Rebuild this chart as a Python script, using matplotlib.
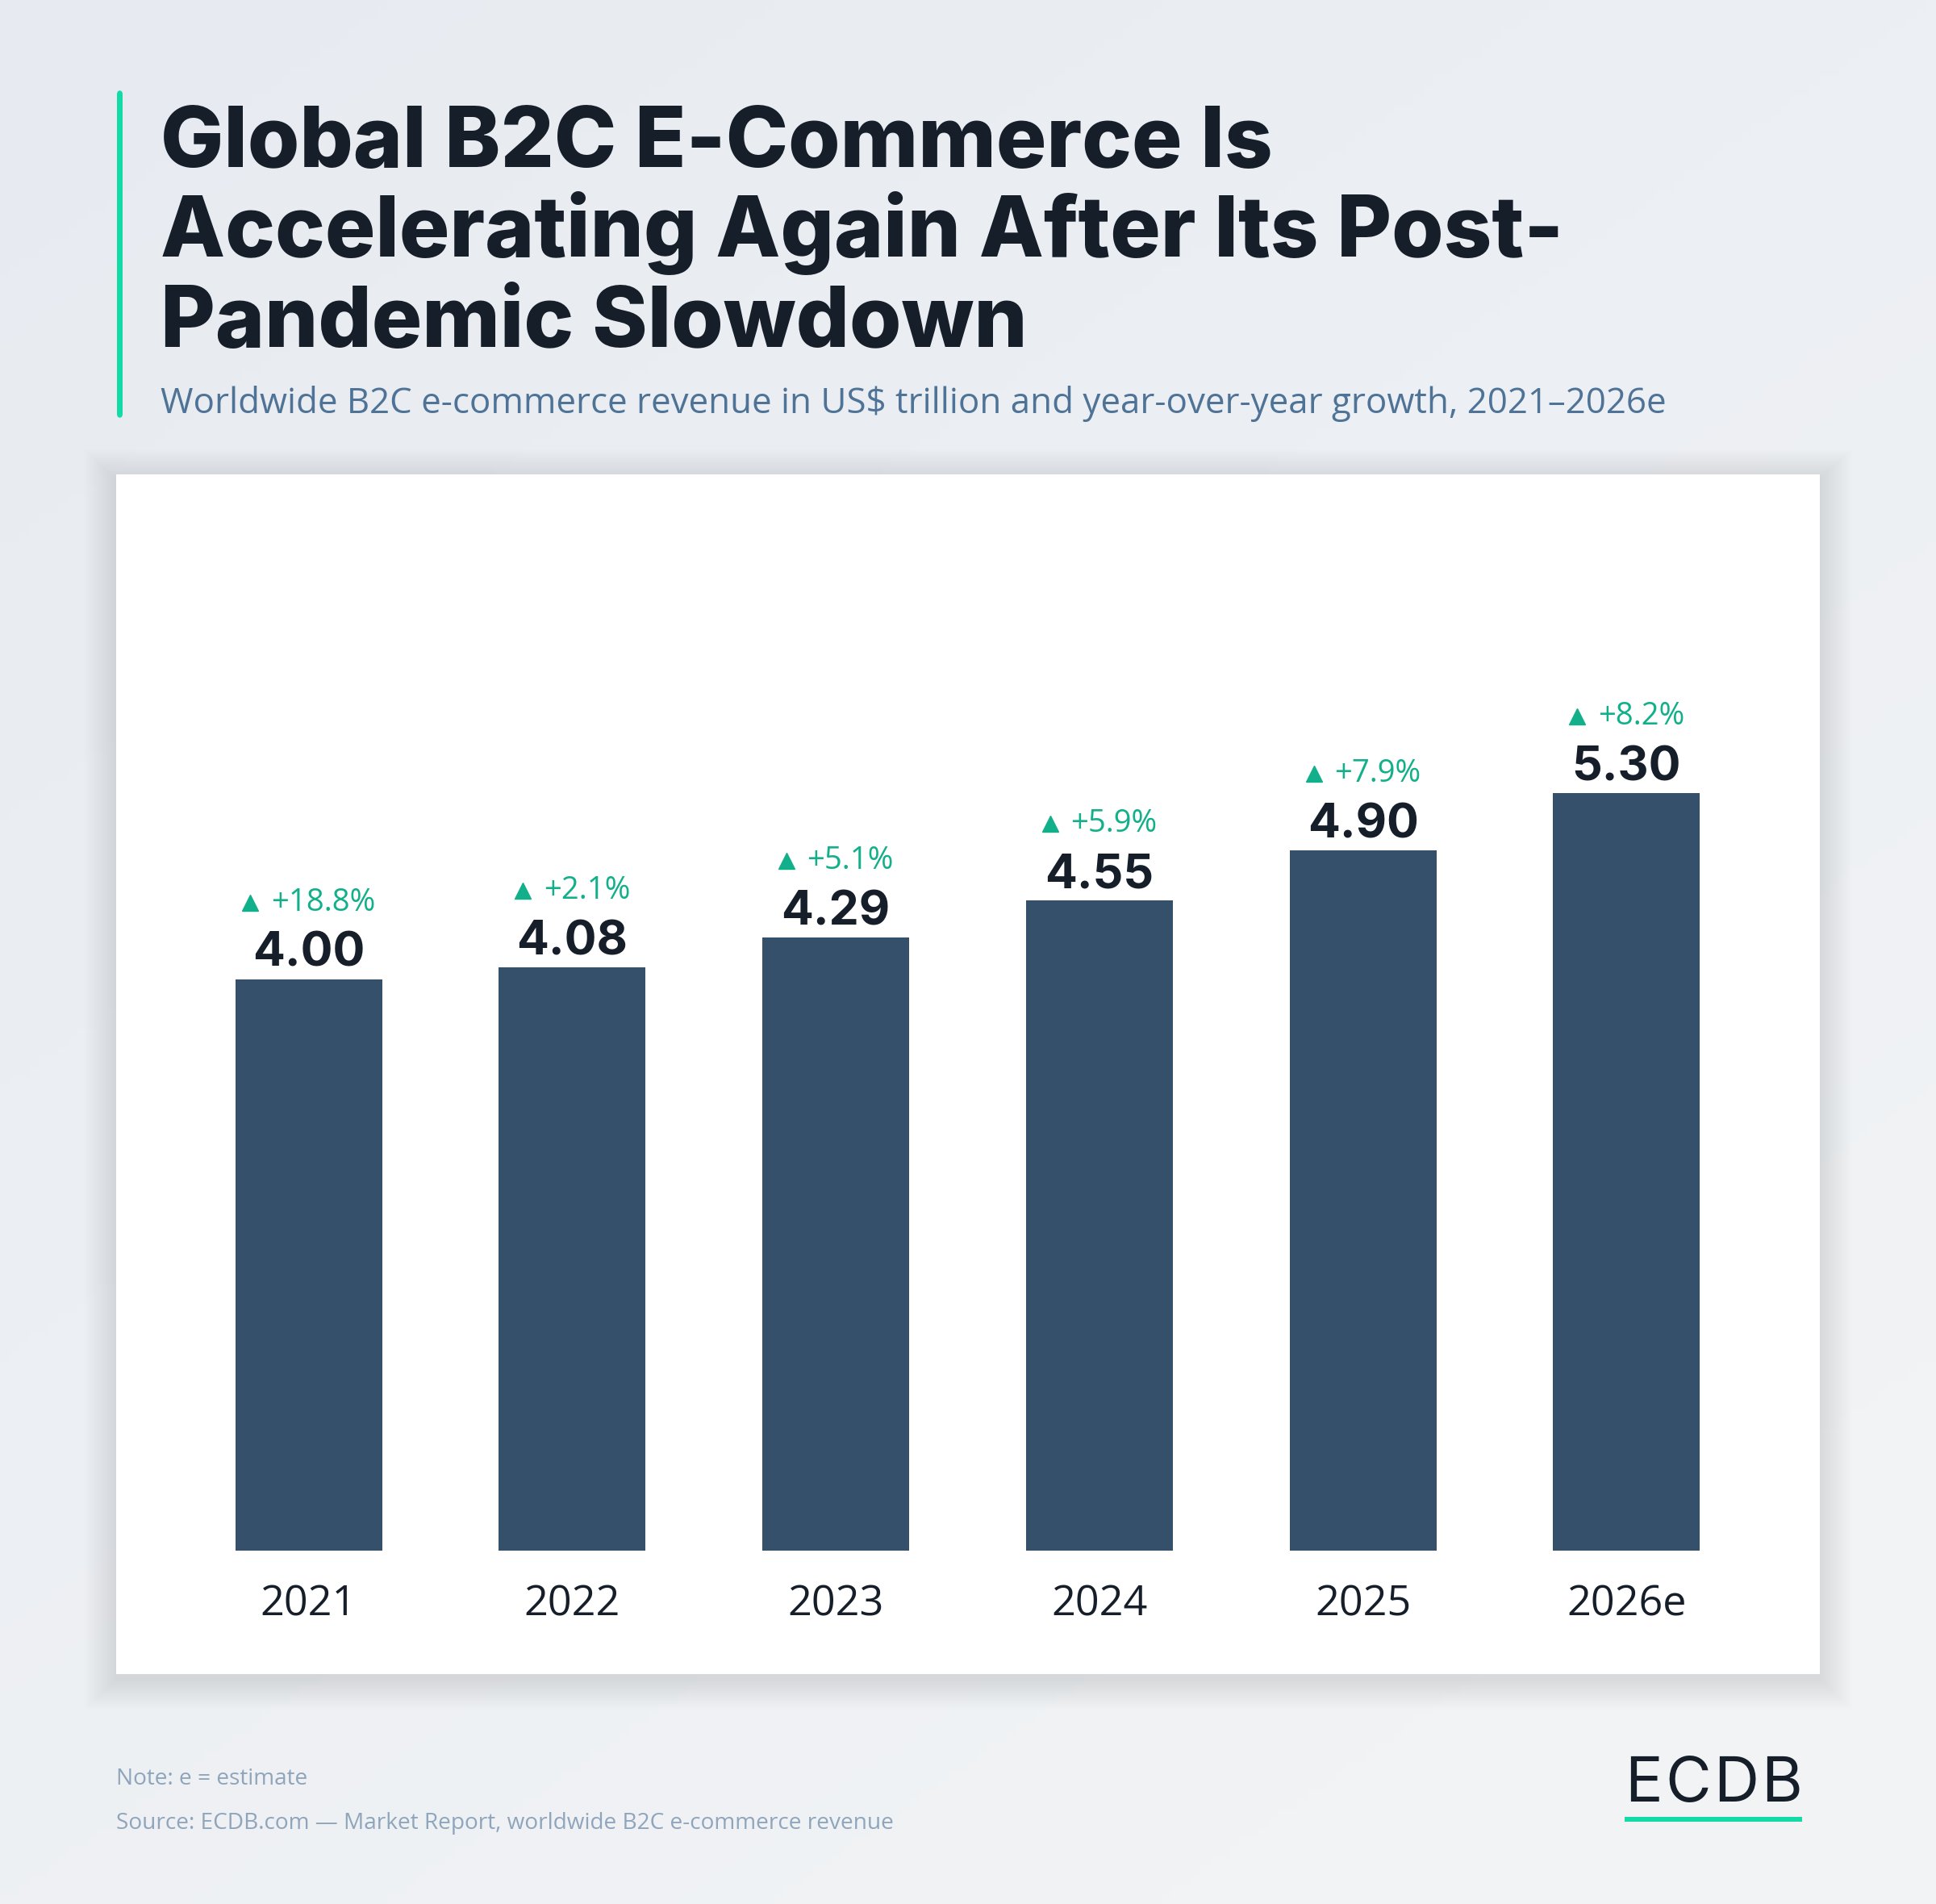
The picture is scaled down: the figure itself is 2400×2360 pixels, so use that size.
import numpy as np
import matplotlib
matplotlib.use("Agg")
import matplotlib.pyplot as plt
from matplotlib.patches import Rectangle, FancyBboxPatch
from matplotlib import transforms

years = ["2021", "2022", "2023", "2024", "2025", "2026e"]
revenue = [4.00, 4.08, 4.29, 4.55, 4.90, 5.30]
growth = [18.8, 2.1, 5.1, 5.9, 7.9, 8.2]

title_lines = ["Global B2C E-Commerce Is",
               "Accelerating Again After Its Post-",
               "Pandemic Slowdown"]
subtitle = "Worldwide B2C e-commerce revenue in US$ trillion and year-over-year growth, 2021\u20132026e"
note = "Note: e = estimate"
source = "Source: ECDB.com \u2014 Market Report, worldwide B2C e-commerce revenue"

W, H = 2400, 2360
BAR = "#34506a"
DARK = "#151e29"
GREEN = "#12b08a"
ACCENT = "#12dba8"


def fx(x):
    return x / W


def fy(y):
    return 1 - y / H


fig = plt.figure(figsize=(W / 100, H / 100), dpi=100)

# background gradient
bg = fig.add_axes([0, 0, 1, 1], zorder=-10)
gx, gy = np.meshgrid(np.linspace(0, 1, 200), np.linspace(0, 1, 200))
t = np.clip(0.5 * gx + 0.7 * gy, 0, 1)
c0 = np.array([0xe7, 0xeb, 0xf1]) / 255
c1 = np.array([0xf1, 0xf3, 0xf5]) / 255
img = c0[None, None, :] * (1 - t[..., None]) + c1[None, None, :] * t[..., None]
bg.imshow(img, aspect="auto", extent=[0, 1, 0, 1])
bg.axis("off")

# accent bar + title
fig.add_artist(FancyBboxPatch((fx(145), fy(518)), fx(7), 406 / H,
                              boxstyle="round,pad=0,rounding_size=0.002",
                              transform=fig.transFigure, color=ACCENT, lw=0))
for line, base in zip(title_lines, [207, 318, 430]):
    fig.text(fx(199), fy(base), line, fontsize=75, fontweight="heavy",
             family="Inter", color=DARK, va="baseline", ha="left")
fig.text(fx(199), fy(512), subtitle, fontsize=31.6, family="Open Sans",
         color="#4f7396", va="baseline", ha="left")

# card shadow
cx0, cy0, cx1, cy1 = 144, 588, 2256, 2075
for k in range(1, 26):
    fig.add_artist(Rectangle((fx(cx0 - k * 1.6), fy(cy1 + 6 + k * 1.5)),
                             (cx1 - cx0 + k * 3.2) / W, (cy1 - cy0 + k * 3.0) / H,
                             transform=fig.transFigure, color="#5a6b85",
                             alpha=0.004, lw=0, zorder=0))

ax = fig.add_axes([fx(cx0), fy(cy1), (cx1 - cx0) / W, (cy1 - cy0) / H], zorder=1)
ax.set_facecolor("white")
x = np.arange(len(years))
ax.bar(x, revenue, width=0.557, color=BAR)
ax.set_xlim(-0.730, 5.733)
ax.set_ylim(-0.861, 7.531)
for s in ax.spines.values():
    s.set_visible(False)
ax.set_xticks([])
ax.set_yticks([])

for i, (v, yr) in enumerate(zip(revenue, years)):
    ax.annotate(f"{v:.2f}", xy=(i, v), xytext=(0, 16), textcoords="offset pixels",
                ha="center", va="baseline", fontsize=42.5, fontweight="bold",
                family="Inter", color=DARK)
    ax.annotate(yr, xy=(i, 0), xytext=(0, -80), textcoords="offset pixels",
                ha="center", va="baseline", fontsize=37.5, family="Open Sans",
                fontweight="medium", color=DARK)

fig.canvas.draw()
r = fig.canvas.get_renderer()
tri_w, gap = 21, 15
for i, (v, g) in enumerate(zip(revenue, growth)):
    tx = ax.annotate(f"+{g:.1f}%", xy=(i, v), xytext=(0, 85), textcoords="offset pixels",
                     ha="left", va="baseline", fontsize=27.5, family="Open Sans",
                     fontweight="medium", color=GREEN)
    w = tx.get_window_extent(r).width
    total = tri_w + gap + w
    tx.xyann = (-total / 2 + tri_w + gap, 85)
    tr = transforms.offset_copy(ax.transData, fig=fig, x=-total / 2 + tri_w / 2,
                                y=95, units="dots")
    ax.plot([i], [v], marker="^", ms=14.5, color=GREEN, transform=tr, clip_on=False)

# footer
fig.text(fx(144), fy(2212), note, fontsize=20.2, family="Open Sans",
         color="#8fa5bc", va="baseline")
fig.text(fx(144), fy(2267), source, fontsize=20.2, family="Open Sans",
         color="#8fa5bc", va="baseline")

# logo: letters spread over the underline width
logo_x0, logo_w = 2014, 220
letters = []
for ch in "ECDB":
    letters.append(fig.text(0, fy(2233), ch, fontsize=56, family="Inter",
                            fontweight="normal", color=DARK, va="baseline", ha="left"))
widths = [tl.get_window_extent(r).width for tl in letters]
spacing = (logo_w - sum(widths)) / (len(widths) - 1)
pos = logo_x0
for tl, wd in zip(letters, widths):
    tl.set_x(fx(pos))
    pos += wd + spacing
fig.add_artist(Rectangle((fx(logo_x0), fy(2258)), logo_w / W, 6 / H,
                         transform=fig.transFigure, color=ACCENT, lw=0))

fig.savefig("out.png", dpi=100)
